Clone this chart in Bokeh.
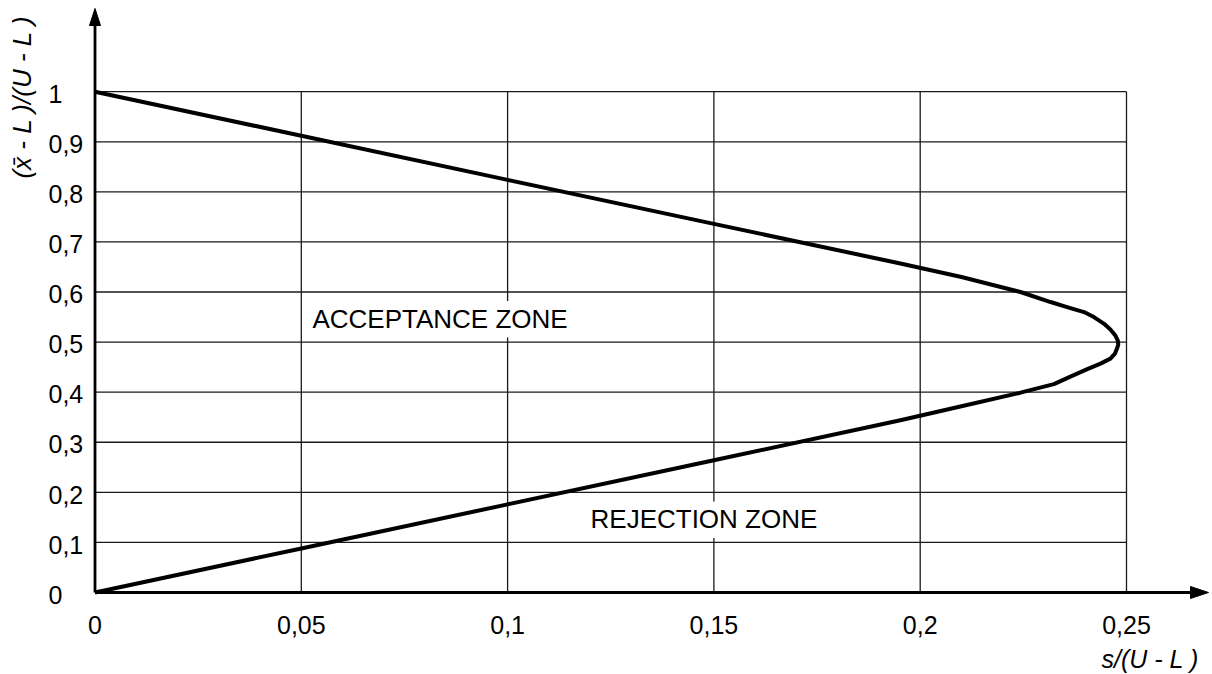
import math
from bokeh.plotting import figure
from bokeh.models import Range1d
from bokeh.core.properties import value
from bokeh.embed import file_html
from bokeh.resources import INLINE

# ---------------- data ----------------
curve_x = [0.0, 0.05, 0.10, 0.15, 0.1952, 0.2100, 0.2243, 0.2316, 0.2356, 0.2397,
           0.2421, 0.2445, 0.2461, 0.2473, 0.2479, 0.2480, 0.2477, 0.2472, 0.2461,
           0.2437, 0.2405, 0.2364, 0.2324, 0.2243, 0.2100, 0.1952, 0.15, 0.10, 0.05, 0.0]
curve_y = [1.0, 0.912, 0.824, 0.736, 0.657, 0.630, 0.600, 0.580, 0.570, 0.560,
           0.550, 0.537, 0.525, 0.513, 0.503, 0.495, 0.487, 0.477, 0.467,
           0.457, 0.446, 0.431, 0.416, 0.399, 0.372, 0.344, 0.264, 0.176, 0.088, 0.0]

x_ticks = [0, 0.05, 0.1, 0.15, 0.2, 0.25]
x_tick_labels = ["0", "0,05", "0,1", "0,15", "0,2", "0,25"]
y_ticks = [0, 0.1, 0.2, 0.3, 0.4, 0.5, 0.6, 0.7, 0.8, 0.9, 1.0]
y_tick_labels = ["0", "0,1", "0,2", "0,3", "0,4", "0,5", "0,6", "0,7", "0,8", "0,9", "1"]

zone_texts = ["ACCEPTANCE ZONE", "REJECTION ZONE"]
zone_x = [0.0527, 0.1201]
zone_y = [0.530, 0.130]

x_title = "s/(U - L )"
y_title = "(x\u0304 - L )/(U - L )"

# ---------------- layout ----------------
W, H = 1212, 674
X0, XS = 94.5, 4126.0     # canvas px of x=0, px per unit
Y0, YS = 592.0, 500.8     # canvas px (from top) of y=0, px per unit
TXT_FIX = 8.5             # baseline correction of the renderer, px

def dx(px):
    return px / XS

def dy(px):
    return px / YS

FONT = "Liberation Sans"

p = figure(width=W, height=H, output_backend="svg", toolbar_location=None,
           x_range=Range1d(-X0 / XS, (W - X0) / XS),
           y_range=Range1d(-(H - Y0) / YS, Y0 / YS),
           x_axis_location=None, y_axis_location=None,
           min_border=0, outline_line_color=None,
           background_fill_color="white", border_fill_color="white")
p.grid.visible = False

# grid
x_max = x_ticks[-1]
y_max = y_ticks[-1]
p.segment(x0=[0] * (len(y_ticks) - 1), x1=[x_max] * (len(y_ticks) - 1),
          y0=y_ticks[1:], y1=y_ticks[1:], line_color="#1a1a1a", line_width=1.3)
p.segment(x0=x_ticks[1:], x1=x_ticks[1:], y0=[0] * (len(x_ticks) - 1),
          y1=[y_max] * (len(x_ticks) - 1), line_color="#1a1a1a", line_width=1.3)

# white boxes behind zone labels
zone_w = [257, 225]
p.quad(left=[xx - dx(5) for xx in zone_x],
       right=[xx + dx(w + 5) for xx, w in zip(zone_x, zone_w)],
       bottom=[yy - dy(10.5) for yy in zone_y],
       top=[yy + dy(26) for yy in zone_y],
       fill_color="white", line_color=None)

# axes with arrows
tip_x = (1208 - X0) / XS
tip_y = (Y0 - 8) / YS
p.segment(x0=[0], y0=[0], x1=[tip_x - dx(12)], y1=[0], line_color="black", line_width=2.8)
p.segment(x0=[0], y0=[0], x1=[0], y1=[tip_y - dy(12)], line_color="black", line_width=2.8)
p.patch([tip_x, tip_x - dx(18), tip_x - dx(18)], [0, dy(6), -dy(6)],
        fill_color="black", line_color="black", line_width=1)
p.patch([0, dx(5.5), -dx(5.5)], [tip_y, tip_y - dy(17), tip_y - dy(17)],
        fill_color="black", line_color="black", line_width=1)

# curve
p.line(curve_x, curve_y, line_color="black", line_width=4, line_join="round")

# tick labels
p.text(x=x_ticks, y=[-dy(40.7 - TXT_FIX)] * len(x_ticks), text=x_tick_labels,
       text_font=value(FONT), text_font_size="25px", text_color="black",
       text_align="center", text_baseline="alphabetic")
p.text(x=[-dx(X0 - 48)] * len(y_ticks), y=[t - dy(10.7 - TXT_FIX) for t in y_ticks],
       text=y_tick_labels,
       text_font=value(FONT), text_font_size="25px", text_color="black",
       text_align="left", text_baseline="alphabetic")

# zone labels
p.text(x=zone_x, y=[yy + dy(TXT_FIX) for yy in zone_y], text=zone_texts,
       text_font=value(FONT), text_font_size="26px",
       text_color="black", text_align="left", text_baseline="alphabetic")

# axis titles
p.text(x=[(1101 - X0) / XS], y=[-dy(667 - TXT_FIX - Y0)], text=[x_title], text_font=value(FONT),
       text_font_size="25px", text_font_style="italic", text_color="black",
       text_align="left", text_baseline="alphabetic")
p.text(x=[-dx(X0 - 21.5)], y=[(Y0 - 96.5) / YS], text=[y_title], text_font=value(FONT),
       text_font_size="26px", text_font_style="italic", text_color="black",
       text_align="center", text_baseline="middle", angle=math.pi / 2)

open("out.html", "w").write(file_html(p, INLINE))
